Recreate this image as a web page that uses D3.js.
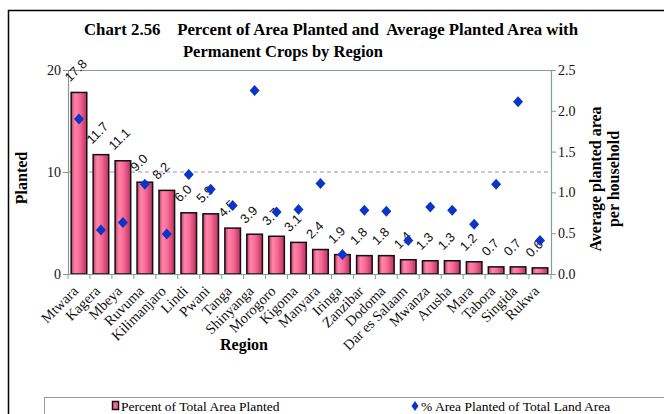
<!DOCTYPE html>
<html><head><meta charset="utf-8">
<script src="https://cdn.jsdelivr.net/npm/d3@7"></script>
<style>
body{margin:0;background:#fff;}
svg{display:block;}
text{font-family:"Liberation Serif","Times New Roman",serif;}
</style></head>
<body>
<svg id="chart" width="664" height="414"></svg>
<script>
const regions = ["Mtwara","Kagera","Mbeya","Ruvuma","Kilimanjaro","Lindi","Pwani","Tanga","Shinyanga","Morogoro","Kigoma","Manyara","Iringa","Zanzibar","Dodoma","Dar es Salaam","Mwanza","Arusha","Mara","Tabora","Singida","Rukwa"];
const percentPlanted = [17.8,11.7,11.1,9.0,8.2,6.0,5.9,4.5,3.9,3.7,3.1,2.4,1.9,1.8,1.8,1.4,1.3,1.3,1.2,0.7,0.7,0.6];
const avgPlantedArea = [1.90,0.54,0.63,1.10,0.49,1.22,1.04,0.84,2.25,0.76,0.79,1.11,0.24,0.78,0.77,0.41,0.82,0.78,0.61,1.10,2.11,0.41];
const leftTicks = [0,10,20];
const rightTicks = [0,0.5,1.0,1.5,2.0,2.5];
const titleLines = ["Chart 2.56    Percent of Area Planted and  Average Planted Area with","Permanent Crops by Region"];
const legendLabels = ["Percent of Total Area Planted","% Area Planted of Total Land Area"];

const svg = d3.select("#chart");
const L = 68, R = 551, T = 70, B = 274;

const defs = svg.append("defs");
const g = defs.append("linearGradient").attr("id","barGrad").attr("x1","0").attr("x2","1").attr("y1","0").attr("y2","0");
[["0%","#c83c68"],["25%","#ff86aa"],["55%","#f86a96"],["100%","#b83060"]].forEach(s=>g.append("stop").attr("offset",s[0]).attr("stop-color",s[1]));

svg.append("rect").attr("x",8.5).attr("y",10.5).attr("width",700).attr("height",500)
  .attr("fill","none").attr("stroke","#000").attr("stroke-width",1.5);

svg.append("text").attr("x",84).attr("y",35).attr("textLength",494).attr("lengthAdjust","spacingAndGlyphs")
  .style("white-space","pre").attr("font-weight","bold").attr("font-size",16).text(titleLines[0]);
svg.append("text").attr("x",183).attr("y",57).attr("textLength",200).attr("lengthAdjust","spacingAndGlyphs")
  .attr("font-weight","bold").attr("font-size",16).text(titleLines[1]);

const x = d3.scaleBand().domain(regions).range([L,R]).paddingInner(0.29).paddingOuter(0.145);
const yL = d3.scaleLinear().domain([0,20]).range([B,T]);
const yR = d3.scaleLinear().domain([0,2.5]).range([B,T]);
const cx = d => x(d) + x.bandwidth()/2;

svg.append("line").attr("x1",L).attr("x2",R).attr("y1",T+0.5).attr("y2",T+0.5).attr("stroke","#8a9a9a").attr("stroke-width",1);
svg.append("line").attr("x1",L).attr("x2",R).attr("y1",yL(10)).attr("y2",yL(10))
  .attr("stroke","#999").attr("stroke-dasharray","4,3").attr("stroke-width",1);

svg.append("g").selectAll("rect").data(regions).join("rect")
  .attr("x",d=>x(d)).attr("width",x.bandwidth())
  .attr("y",(d,i)=>yL(percentPlanted[i])).attr("height",(d,i)=>B-yL(percentPlanted[i]))
  .attr("fill","url(#barGrad)").attr("stroke","#111").attr("stroke-width",1.5);

const axL = svg.append("g").attr("transform",`translate(${L},0)`)
  .call(d3.axisLeft(yL).tickValues(leftTicks).tickSize(5).tickFormat(d3.format("d")));
const axR = svg.append("g").attr("transform",`translate(${R},0)`)
  .call(d3.axisRight(yR).tickValues(rightTicks).tickSize(5).tickFormat(d3.format(".1f")));
[axL,axR].forEach(a=>{
  a.select(".domain").attr("stroke","#8a9a9a").attr("stroke-width",1.2);
  a.selectAll(".tick line").attr("stroke","#8a9a9a");
  a.selectAll("text").attr("font-size",14).attr("fill","#111");
});
axL.selectAll("text").attr("x",-7);
axR.selectAll("text").attr("x",7);

svg.append("line").attr("x1",L).attr("x2",R).attr("y1",B+0.5).attr("y2",B+0.5).attr("stroke","#8a9a9a").attr("stroke-width",1.2);
const tickPos = d3.range(regions.length+1).map(i=>L + i*(R-L)/regions.length);
svg.append("g").selectAll("line").data(tickPos).join("line")
  .attr("x1",d=>d).attr("x2",d=>d).attr("y1",B).attr("y2",B+5).attr("stroke","#8a9a9a");
svg.append("g").selectAll("text").data(regions).join("text")
  .attr("transform",d=>`translate(${cx(d)},${B+18}) rotate(-45)`)
  .attr("text-anchor","end").attr("font-size",14.5).attr("fill","#111").text(d=>d);

svg.append("g").selectAll("text").data(regions).join("text")
  .attr("transform",(d,i)=>`translate(${cx(d)-9},${yL(percentPlanted[i])-10}) rotate(-45)`)
  .style("font-family","'Liberation Sans', Arial, sans-serif").attr("font-size",13).attr("fill","#111")
  .text((d,i)=>d3.format(".1f")(percentPlanted[i]));

const diamondPath = "M0,-5.5L5,0L0,5.5L-5,0Z";
svg.append("g").selectAll("path").data(regions).join("path")
  .attr("d",diamondPath)
  .attr("transform",(d,i)=>`translate(${cx(d)},${yR(avgPlantedArea[i])})`)
  .attr("fill","#0a35c8");

svg.append("text").attr("transform","translate(27,178) rotate(-90)").attr("text-anchor","middle")
  .attr("font-weight","bold").attr("font-size",16).text("Planted");
svg.append("text").attr("transform","translate(601,179) rotate(-90)").attr("text-anchor","middle")
  .attr("font-weight","bold").attr("font-size",16).text("Average planted area");
svg.append("text").attr("transform","translate(619,179) rotate(-90)").attr("text-anchor","middle")
  .attr("font-weight","bold").attr("font-size",16).text("per household");
svg.append("text").attr("x",244).attr("y",350).attr("text-anchor","middle")
  .attr("font-weight","bold").attr("font-size",16).text("Region");

svg.append("rect").attr("x",44.5).attr("y",397.5).attr("width",700).attr("height",40)
  .attr("fill","#fff").attr("stroke","#999").attr("stroke-width",1);
svg.append("rect").attr("x",112.5).attr("y",401.5).attr("width",6).attr("height",8)
  .attr("fill","#f06a94").attr("stroke","#111").attr("stroke-width",1.5);
svg.append("text").attr("x",121).attr("y",411).attr("font-size",13.5).text(legendLabels[0]);
svg.append("path").attr("d","M0,-5L3.5,0L0,5L-3.5,0Z")
  .attr("transform","translate(415,406)").attr("fill","#0a35c8");
svg.append("text").attr("x",421).attr("y",411).attr("font-size",13.5).text(legendLabels[1]);
</script>
</body></html>
